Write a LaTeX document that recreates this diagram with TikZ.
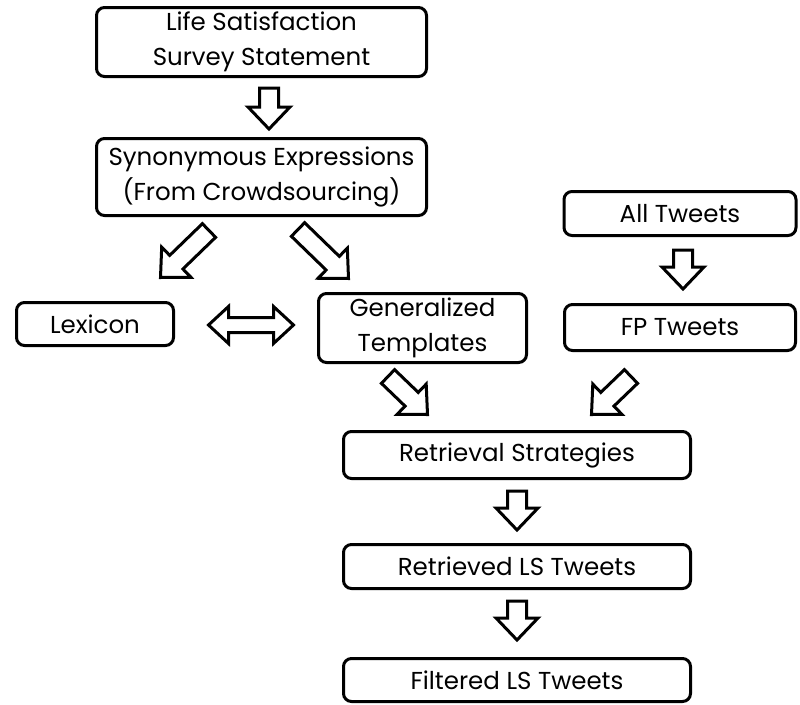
\documentclass[tikz,border=0pt]{standalone}
\usepackage{fontspec}
\setmainfont{Poppins}
\usepackage{tikz}
\usetikzlibrary{positioning, calc}

\tikzset{
  box/.style={draw, line width=3pt, rounded corners=8pt, align=center,
              inner sep=2pt, font=\fontsize{24.5}{35}\selectfont},
  fat/.style={draw, line width=3pt, fill=white, line join=miter},
}
\newcommand{\fatarrow}[2]{%
  \coordinate (fb) at ($(#2)!22pt!(#1)$);
  \draw[fat] ($(#1)!9.5pt!90:(#2)$) -- ($(fb)!9.5pt!90:(#2)$) -- ($(fb)!21pt!90:(#2)$)
    -- (#2) -- ($(fb)!21pt!-90:(#2)$) -- ($(fb)!9.5pt!-90:(#2)$) -- ($(#1)!9.5pt!-90:(#2)$) -- cycle;}
\newcommand{\dblarrow}[2]{%
  \coordinate (fa) at ($(#1)!20pt!(#2)$);
  \coordinate (fb) at ($(#2)!20pt!(#1)$);
  \draw[fat] (#1) -- ($(fa)!18.5pt!90:(#2)$) -- ($(fa)!7.5pt!90:(#2)$) -- ($(fb)!7.5pt!90:(#2)$)
    -- ($(fb)!18.5pt!90:(#2)$) -- (#2) -- ($(fb)!18.5pt!-90:(#2)$) -- ($(fb)!7.5pt!-90:(#2)$)
    -- ($(fa)!7.5pt!-90:(#2)$) -- ($(fa)!18.5pt!-90:(#2)$) -- cycle;}

\begin{document}
\begin{tikzpicture}[x=1pt, y=-1pt]
  \useasboundingbox (0,0) rectangle (800,704);

  \node[box, minimum width=330pt, minimum height=69pt] (life) at (261.5,42) {Life Satisfaction\\Survey Statement};
  \node[box, minimum width=330pt, minimum height=77pt] (syn) at (261.5,177) {Synonymous Expressions\\(From Crowdsourcing)};
  \node[box, minimum width=157pt, minimum height=43pt] (lex) at (95,324) {Lexicon};
  \node[box, minimum width=208pt, minimum height=69pt] (gen) at (422.5,328) {Generalized\\Templates};
  \node[box, minimum width=232pt, minimum height=44pt] (all) at (680,213.5) {All Tweets};
  \node[box, minimum width=231pt, minimum height=46pt] (fp) at (680,327.5) {FP Tweets};
  \node[box, minimum width=347pt, minimum height=47pt] (ret) at (517,455) {Retrieval Strategies};
  \node[box, minimum width=347pt, minimum height=44pt] (rls) at (517,566.5) {Retrieved LS Tweets};
  \node[box, minimum width=347pt, minimum height=43pt] (fil) at (517,680) {Filtered LS Tweets};

  \fatarrow{$(life.south)+(7.5,10)$}{$(syn.north)+(7.5,-8)$}
  \fatarrow{$(syn.south)+(-52.5,13.5)$}{$(lex.north east)+(-14.5,-23.5)$}
  \fatarrow{$(syn.south)+(36.5,12.5)$}{$(gen.north west)+(31.5,-13.5)$}
  \dblarrow{$(lex.east)+(33.5,1)$}{$(gen.west)+(-23.5,-3)$}
  \fatarrow{$(all.south)+(3,13)$}{$(fp.north)+(3,-14)$}
  \fatarrow{$(gen.south)+(-34.5,12.5)$}{$(ret.north west)+(85.5,-15.5)$}
  \fatarrow{$(fp.south)+(-49,24.5)$}{$(ret.north east)+(-100.5,-15.5)$}
  \fatarrow{$(ret.south)+(0,11)$}{$(rls.north)+(0,-13)$}
  \fatarrow{$(rls.south)+(0,11)$}{$(fil.north)+(0,-17)$}
\end{tikzpicture}
\end{document}
